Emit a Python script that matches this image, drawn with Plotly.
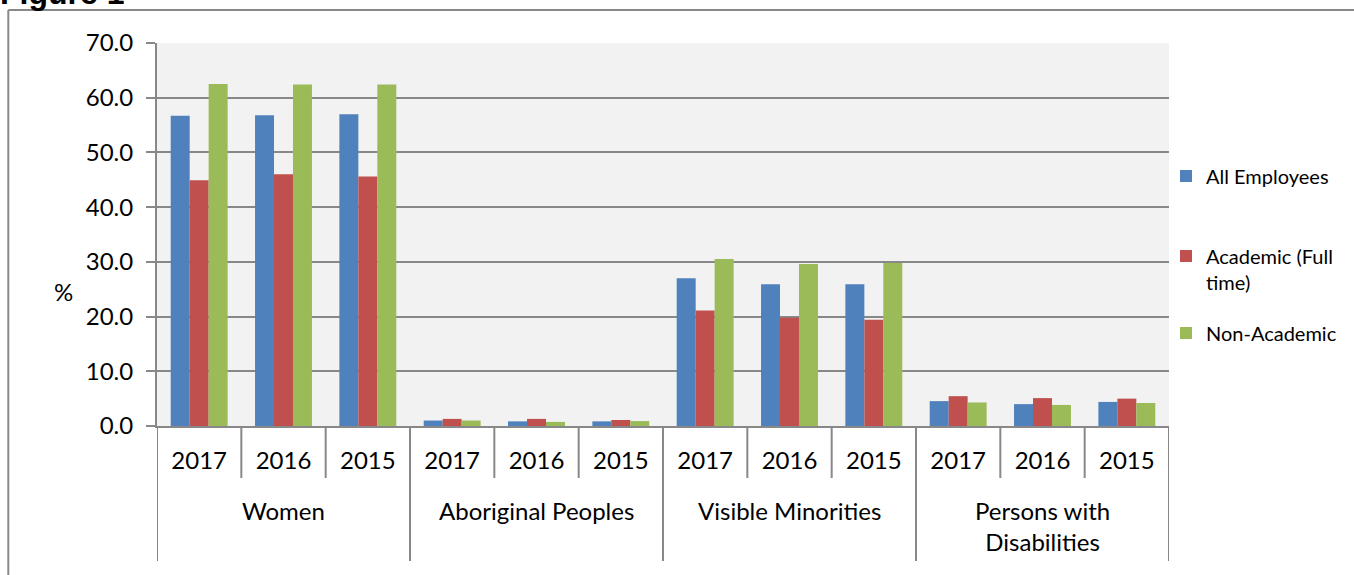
import plotly.graph_objects as go

# ---- data ----
groups = ["Women", "Aboriginal Peoples", "Visible Minorities", "Persons with<br>Disabilities"]
years = ["2017", "2016", "2015"]
all_employees = [56.7, 56.8, 57.0, 1.0, 0.85, 0.85, 27.0, 25.9, 25.9, 4.55, 4.0, 4.4]
academic_ft = [44.9, 46.0, 45.6, 1.3, 1.3, 1.1, 21.1, 19.8, 19.4, 5.45, 5.1, 5.0]
non_academic = [62.5, 62.4, 62.4, 1.0, 0.75, 0.9, 30.5, 29.6, 29.8, 4.3, 3.85, 4.2]
series_names = ["All Employees", "Academic (Full<br>time)", "Non-Academic"]
colors = ["#4f81bd", "#c0504d", "#9bbb59"]

W, H = 1354, 575
L, R, T, B = 157, 1171, 43, 426
pw, ph = R - L, B - T


def px_x(px):
    return (px - L) / pw


def px_y(py):
    return (B - py) / ph


n = len(groups) * len(years)
xs = list(range(n))
ticktext = years * len(groups)

fig = go.Figure()
for i, (name, vals) in enumerate(zip(series_names, [all_employees, academic_ft, non_academic])):
    fig.add_trace(go.Bar(
        x=xs, y=vals, name=name, marker=dict(color=colors[i], line=dict(width=0)),
        legend="legend" if i == 0 else f"legend{i+1}",
    ))

GRID = "#888888"
FONT = "Lato"

shapes = []
# dividers between years (short) and groups (long)
for k in range(n + 1):
    xb = k - 0.5
    if k % len(years) == 0:
        y1 = px_y(561)
    else:
        y1 = px_y(478)
    shapes.append(dict(type="line", xref="x", yref="paper", x0=xb, x1=xb, y0=0, y1=y1,
                       line=dict(color=GRID, width=2)))
# outer chart frame (left and top)
shapes.append(dict(type="line", xref="paper", yref="paper", x0=px_x(8), x1=px_x(8),
                   y0=px_y(10), y1=px_y(580), line=dict(color=GRID, width=2)))
shapes.append(dict(type="line", xref="paper", yref="paper", x0=px_x(8), x1=px_x(1360),
                   y0=px_y(10), y1=px_y(10), line=dict(color=GRID, width=2)))

annotations = []
for gi, g in enumerate(groups):
    annotations.append(dict(x=gi * len(years) + (len(years) - 1) / 2, xref="x",
                            y=px_y(494), yref="paper", text=g, showarrow=False,
                            xanchor="center", yanchor="top",
                            font=dict(family=FONT, size=24, color="black")))
annotations.append(dict(x=px_x(63), y=px_y(291), xref="paper", yref="paper", text="%",
                        showarrow=False, xanchor="center", yanchor="middle",
                        font=dict(family=FONT, size=24, color="black")))
annotations.append(dict(x=px_x(-2), y=px_y(13), xref="paper", yref="paper", text="<b>Figure 1</b>",
                        showarrow=False, xanchor="left", yanchor="bottom",
                        font=dict(family="Liberation Sans", size=32, color="black")))

legend_common = dict(font=dict(family=FONT, size=20, color="black"), bgcolor="rgba(0,0,0,0)",
                     xanchor="left", yanchor="middle", borderwidth=0)

fig.update_layout(
    width=W, height=H,
    margin=dict(l=L, r=W - R, t=T, b=H - B, pad=0),
    paper_bgcolor="white", plot_bgcolor="#f2f2f2",
    barmode="group", bargap=0.325, bargroupgap=0,
    showlegend=True,
    legend=dict(x=px_x(1168), y=px_y(176), **legend_common),
    legend2=dict(x=px_x(1168), y=px_y(269), valign="top", **legend_common),
    legend3=dict(x=px_x(1168), y=px_y(333), **legend_common),
    xaxis=dict(range=[-0.5, n - 0.5], tickmode="array", tickvals=xs, ticktext=ticktext,
               showgrid=False, zeroline=False, showline=True, linecolor=GRID, linewidth=2,
               ticks="", tickfont=dict(family=FONT, size=24, color="black"), ticklabelstandoff=12),
    yaxis=dict(range=[0, 70], dtick=10, tickformat=".1f", showgrid=True, gridcolor=GRID,
               gridwidth=2, zeroline=False, showline=True, linecolor=GRID, linewidth=2,
               ticks="outside", ticklen=9, tickwidth=2, tickcolor=GRID,
               tickfont=dict(family=FONT, size=24, color="black"), ticklabelstandoff=8),
    shapes=shapes, annotations=annotations,
    hovermode=False,
)

fig.write_html("out.html", config={"displayModeBar": False},
               post_script="document.body.style.margin='0';document.body.style.overflow='hidden';")
